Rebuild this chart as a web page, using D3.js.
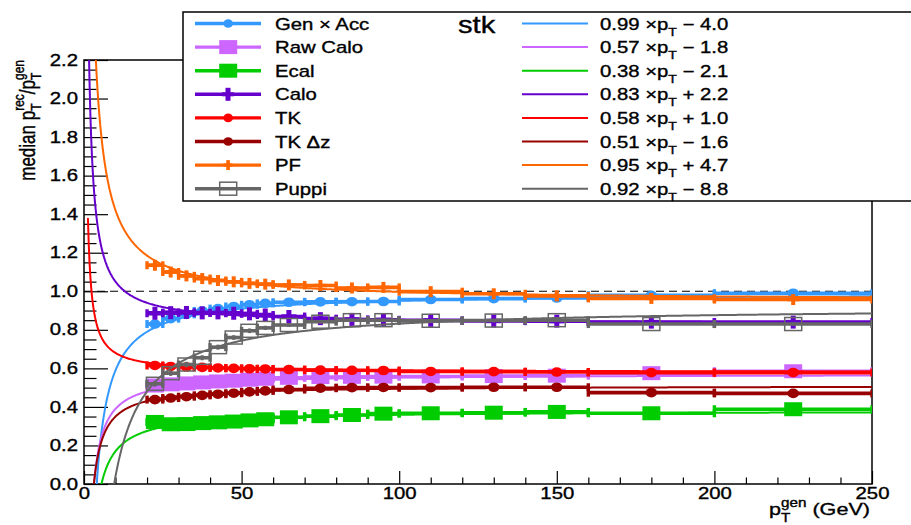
<!DOCTYPE html>
<html><head><meta charset="utf-8">
<script src="https://cdn.jsdelivr.net/npm/d3@7"></script>
<style>
body{margin:0;background:#fff}
svg{display:block}
text{font-family:"Liberation Sans",Arial,Helvetica,sans-serif;fill:#000;white-space:pre;stroke:#000;stroke-width:0.35px}
</style>
</head><body>
<svg id="c" width="911" height="525"></svg>
<script>
// ---- data -------------------------------------------------------------
// bin edges of the pT^gen binning (GeV)
const binEdges = [20,25,30,35,40,45,50,55,60,70,80,90,100,120,140,160,200,250];

// median response per bin, one array per reconstruction level
const genAcc  = [0.830,0.858,0.880,0.898,0.910,0.921,0.930,0.937,0.943,0.945,0.946,0.947,0.957,0.962,0.965,0.979,0.990];
const rawCalo = [0.511,0.517,0.522,0.527,0.532,0.536,0.541,0.546,0.551,0.555,0.556,0.557,0.558,0.560,0.562,0.575,0.585];
const ecal    = [0.322,0.310,0.311,0.316,0.320,0.324,0.330,0.336,0.346,0.352,0.358,0.365,0.367,0.370,0.374,0.367,0.388];
const calo    = [0.886,0.889,0.890,0.888,0.888,0.886,0.883,0.877,0.869,0.858,0.854,0.852,0.849,0.846,0.845,0.840,0.840];
const tk      = [0.615,0.610,0.607,0.605,0.602,0.600,0.598,0.597,0.594,0.591,0.590,0.589,0.584,0.583,0.581,0.578,0.578];
const tkDz    = [0.438,0.446,0.453,0.460,0.466,0.471,0.478,0.483,0.490,0.497,0.500,0.501,0.500,0.502,0.502,0.474,0.470];
const pf      = [1.135,1.100,1.080,1.066,1.056,1.049,1.041,1.037,1.033,1.030,1.017,1.020,0.998,0.987,0.976,0.963,0.957];
const puppi   = [0.520,0.575,0.620,0.655,0.710,0.760,0.795,0.810,0.825,0.842,0.850,0.850,0.847,0.848,0.850,0.830,0.830];
const puppiErr= [0.015,0.014,0.014,0.013,0.013,0.012,0.012,0.011,0.010,0.009,0.009,0.009,0.008,0.008,0.008,0.008,0.008];

const seriesNames   = ["Gen \u00d7 Acc","Raw Calo","Ecal","Calo","TK","TK \u0394z","PF","Puppi"];
const seriesValues  = [genAcc, rawCalo, ecal, calo, tk, tkDz, pf, puppi];
const seriesColors  = ["#3399ff","#cc66ff","#00cc00","#6600cc","#ff0000","#990000","#ff6600","#666666"];
const seriesMarkers = ["circle","square","square","plus","circle","circle","plusSmall","openSquare"];

// linear fits pT^rec = slope * pT^gen + offset
const fitSlope  = [0.99, 0.57, 0.38, 0.83, 0.58, 0.51, 0.95, 0.92];
const fitOffset = [-4.0, -1.8, -2.1,  2.2,  1.0, -1.6,  4.7, -8.8];

const xTicks = [0,50,100,150,200,250];
const yTicks = [0.0,0.2,0.4,0.6,0.8,1.0,1.2,1.4,1.6,1.8,2.0,2.2];

// ---- layout -----------------------------------------------------------
const SX = 1.27; // horizontal stretch of glyphs and markers
const svg = d3.select("#c");
const x = d3.scaleLinear().domain([0,250]).range([84,872]);
const y = d3.scaleLinear().domain([0,2.2]).range([484,60]);

svg.append("rect").attr("width",911).attr("height",525).attr("fill","#fff");
svg.append("defs").append("clipPath").attr("id","frame")
  .append("rect").attr("x",84).attr("y",60).attr("width",788).attr("height",424);

// rich text: segments laid out left to right, sub/superscripts may stack
function richText(parent, px, py, segs, anchor, rotate) {
  const g = parent.append("g")
    .attr("transform", `translate(${px},${py}) scale(${SX},1)` + (rotate ? ` rotate(${rotate})` : ""));
  const inner = g.append("g");
  let cx = 0, prevStart = 0, prevEnd = 0;
  segs.forEach(s => {
    const start = s.stack ? prevStart : cx;
    const t = inner.append("text").attr("x", start).attr("y", s.dy || 0)
      .style("font-size", s.size + "px").text(s.t);
    const w = t.node().getComputedTextLength();
    const end = start + w;
    cx = s.stack ? Math.max(prevEnd, end) : end;
    prevStart = start; prevEnd = end;
  });
  const shift = anchor === "end" ? -cx : anchor === "middle" ? -cx / 2 : 0;
  inner.attr("transform", `translate(${shift},0)`);
  return g;
}

// ---- axes ------------------------------------------------------------
const xMinor = d3.range(0, 251, 10).filter(v => v % 50 !== 0);
const yMinor = d3.range(0, 45).filter(i => i % 4 !== 0).map(i => i * 0.05);

function styleAxis(g) {
  g.selectAll(".tick line").attr("stroke", "#000").attr("stroke-width", 1.2);
  g.select(".domain").remove();
  g.selectAll("text").attr("font-size", 16).attr("fill", "#000")
    .attr("font-family", '"Liberation Sans",Arial,sans-serif');
}

svg.append("g").attr("transform", "translate(0,484)")
  .call(d3.axisBottom(x).tickValues(xMinor).tickSizeInner(-6.5).tickSizeOuter(0).tickFormat(""))
  .call(styleAxis);
svg.append("g").attr("transform", "translate(0,484)")
  .call(d3.axisBottom(x).tickValues(xTicks).tickSizeInner(-13).tickSizeOuter(0).tickPadding(4).tickFormat(d3.format("d")))
  .call(styleAxis)
  .call(g => g.selectAll("text").attr("transform", `scale(${SX},1)`));

svg.append("g").attr("transform", "translate(84,0)")
  .call(d3.axisLeft(y).tickValues(yMinor).tickSizeInner(-12.5).tickSizeOuter(0).tickFormat(""))
  .call(styleAxis);
svg.append("g").attr("transform", "translate(84,0)")
  .call(d3.axisLeft(y).tickValues(yTicks).tickSizeInner(-24).tickSizeOuter(0).tickPadding(4.7).tickFormat(d3.format(".1f")))
  .call(styleAxis)
  .call(g => g.selectAll("text").attr("transform", `scale(${SX},1)`));

// frame
svg.append("rect").attr("x", 84).attr("y", 60).attr("width", 788).attr("height", 424)
  .attr("fill", "none").attr("stroke", "#000").attr("stroke-width", 1.5);

// unit response reference
svg.append("line").attr("x1", x(0)).attr("x2", x(250)).attr("y1", y(1)).attr("y2", y(1))
  .attr("stroke", "#000").attr("stroke-width", 1.1).attr("stroke-dasharray", "8,5");

// axis titles
richText(svg, 35, 60, [
  {t: "median p", size: 17},
  {t: "T", size: 12, dy: 5},
  {t: "rec", size: 12, dy: -9, stack: true},
  {t: "/p", size: 17},
  {t: "T", size: 12, dy: 5},
  {t: "gen", size: 12, dy: -9, stack: true}
], "end", -90);

richText(svg, 870, 515, [
  {t: "p", size: 17},
  {t: "T", size: 12, dy: 7},
  {t: "gen", size: 12, dy: -8, stack: true},
  {t: " (GeV)", size: 17}
], "end");

// ---- markers --------------------------------------------------------
function drawMarker(g, type, cx, cy, color) {
  if (type === "circle") {
    g.append("ellipse").attr("cx", cx).attr("cy", cy).attr("rx", 5.8).attr("ry", 4.8).attr("fill", color);
  } else if (type === "square") {
    g.append("rect").attr("x", cx - 9).attr("y", cy - 7).attr("width", 18).attr("height", 14).attr("fill", color);
  } else if (type === "openSquare") {
    g.append("rect").attr("x", cx - 8.5).attr("y", cy - 6.5).attr("width", 17).attr("height", 13)
      .attr("fill", "none").attr("stroke", color).attr("stroke-width", 1.5);
  } else if (type === "plus" || type === "plusSmall") {
    const w = type === "plus" ? 15 : 12, h = type === "plus" ? 13 : 11;
    const tv = type === "plus" ? 5 : 4, th = type === "plus" ? 4.5 : 3.5;
    g.append("rect").attr("x", cx - w / 2).attr("y", cy - th / 2).attr("width", w).attr("height", th).attr("fill", color);
    g.append("rect").attr("x", cx - tv / 2).attr("y", cy - h / 2).attr("width", tv).attr("height", h).attr("fill", color);
  }
}

// ---- series ---------------------------------------------------------
const bins = d3.range(binEdges.length - 1).map(i => ({lo: binEdges[i], hi: binEdges[i + 1], c: (binEdges[i] + binEdges[i + 1]) / 2}));
const plot = svg.append("g").attr("clip-path", "url(#frame)");
const curveX = d3.range(1.25, 250.001, 0.25);
const curveLine = d3.line().x(d => x(d[0])).y(d => y(d[1]));

seriesValues.forEach((vals, k) => {
  const col = seriesColors[k];
  const g = plot.append("g");
  // horizontal bin bars
  g.selectAll("line.bar").data(bins).join("line").attr("class", "bar")
    .attr("x1", d => x(d.lo)).attr("x2", d => x(d.hi))
    .attr("y1", (d, i) => y(vals[i])).attr("y2", (d, i) => y(vals[i]))
    .attr("stroke", col).attr("stroke-width", 3.6);
  // end caps
  bins.forEach((d, i) => {
    [d.lo, d.hi].forEach(e => {
      g.append("line").attr("x1", x(e)).attr("x2", x(e))
        .attr("y1", y(vals[i]) - 4).attr("y2", y(vals[i]) + 4)
        .attr("stroke", col).attr("stroke-width", 3.4);
    });
  });
  // vertical uncertainties (visible for the open markers)
  if (seriesMarkers[k] === "openSquare") {
    bins.forEach((d, i) => {
      g.append("line").attr("x1", x(d.c)).attr("x2", x(d.c))
        .attr("y1", y(vals[i] - puppiErr[i])).attr("y2", y(vals[i] + puppiErr[i]))
        .attr("stroke", col).attr("stroke-width", 3.2);
    });
  }
  bins.forEach((d, i) => drawMarker(g, seriesMarkers[k], x(d.c), y(vals[i]), col));
  // response implied by the linear fit
  const pts = curveX.map(v => [v, fitSlope[k] + fitOffset[k] / v]).filter(p => p[1] > -0.3 && p[1] < 3);
  plot.append("path").attr("d", curveLine(pts)).attr("fill", "none")
    .attr("stroke", col).attr("stroke-width", 2);
});

// ---- legend -------------------------------------------------------------
const leg = svg.append("g");
leg.append("rect").attr("x", 183).attr("y", 12).attr("width", 760).attr("height", 189)
  .attr("fill", "#fff").attr("stroke", "#000").attr("stroke-width", 1.5);

function fmtFit(k) {
  const s = fitOffset[k] < 0 ? "\u2212" : "+";
  return [fitSlope[k].toFixed(2) + " \u00d7p", " " + s + " " + Math.abs(fitOffset[k]).toFixed(1)];
}

seriesNames.forEach((name, k) => {
  const ry = 23.5 + k * 23.6;
  const col = seriesColors[k];
  leg.append("line").attr("x1", 195).attr("x2", 261).attr("y1", ry).attr("y2", ry)
    .attr("stroke", col).attr("stroke-width", 3.4);
  const lm = leg.append("g");
  const mk = seriesMarkers[k];
  if (mk === "plus") {
    lm.append("rect").attr("x", 222).attr("y", ry - 2).attr("width", 12).attr("height", 4).attr("fill", col);
    lm.append("rect").attr("x", 225.5).attr("y", ry - 6.5).attr("width", 5).attr("height", 13).attr("fill", col);
  } else if (mk === "plusSmall") {
    lm.append("rect").attr("x", 223.5).attr("y", ry - 1.7).attr("width", 9).attr("height", 3.4).attr("fill", col);
    lm.append("rect").attr("x", 226.3).attr("y", ry - 5).attr("width", 3.6).attr("height", 10).attr("fill", col);
  } else if (mk === "circle") {
    lm.append("ellipse").attr("cx", 228.2).attr("cy", ry).attr("rx", 4.8).attr("ry", 4.3).attr("fill", col);
  } else {
    drawMarker(lm, mk, 228.2, ry, col);
  }
  richText(leg, 275, ry + 6, [{t: name, size: 16}], "start");

  leg.append("line").attr("x1", 522).attr("x2", 588).attr("y1", ry).attr("y2", ry)
    .attr("stroke", col).attr("stroke-width", 2);
  const [a, b] = fmtFit(k);
  richText(leg, 600, ry + 6, [
    {t: a, size: 16},
    {t: "T", size: 11, dy: 6},
    {t: b, size: 16}
  ], "start");
});
richText(leg, 458, 33, [{t: "stk", size: 23}], "start");
</script>
</body></html>
